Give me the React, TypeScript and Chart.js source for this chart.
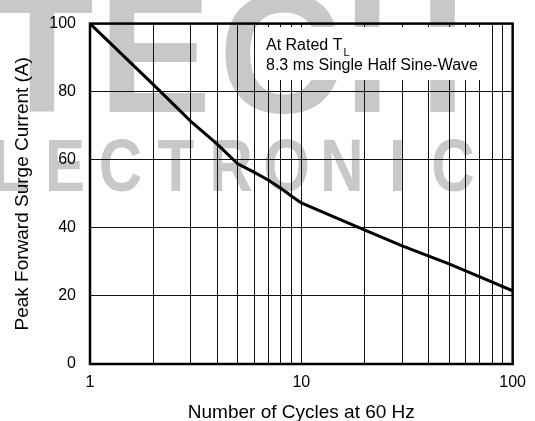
import React, { useEffect, useRef } from 'react';
import { Chart, registerables } from 'chart.js';

Chart.register(...registerables);

const FONT = '"Liberation Sans", Arial, Helvetica, sans-serif';

// Data
const cycles = [1, 2, 3, 4, 5, 6, 7, 8, 9, 10, 15, 20, 30, 50, 70, 100];
const surgeCurrent = [100, 82.0, 71.3, 64.6, 58.8, 56.3, 54.0, 51.6, 49.3, 47.3, 42.6, 39.3, 34.7, 29.4, 25.6, 21.5];

// Axis ticks / grid
const xGridValues = [1, 2, 3, 4, 5, 6, 7, 8, 9, 10, 20, 30, 40, 50, 60, 70, 80, 90, 100];
const xTickLabels = [1, 10, 100];
const yTickStep = 20;

// Texts
const xTitle = 'Number of Cycles at 60 Hz';
const yTitle = 'Peak Forward Surge Current (A)';
const noteLine1 = 'At Rated T';
const noteSub = 'L';
const noteLine2 = '8.3 ms Single Half Sine-Wave';
const watermarkTop = ['T', 'E', 'C', 'H'];
const watermarkBottom = ['E', 'L', 'E', 'C', 'T', 'R', 'O', 'N', 'I', 'C'];

const watermarkPlugin = {
  id: 'watermark',
  beforeDraw(chart: any) {
    const ctx = chart.ctx as CanvasRenderingContext2D;
    ctx.save();
    ctx.fillStyle = 'rgb(200,200,200)';
    ctx.textAlign = 'center';
    ctx.textBaseline = 'alphabetic';
    ctx.font = `bold 170px ${FONT}`;
    const topCenters = [42, 155, 280, 405];
    watermarkTop.forEach((ch, i) => ctx.fillText(ch, topCenters[i], 112));
    ctx.font = `bold 75px ${FONT}`;
    watermarkBottom.forEach((ch, i) => {
      const cx = -45.8 + i * 55.4;
      ctx.save();
      ctx.translate(cx, 191);
      ctx.scale(0.8, 1);
      ctx.fillText(ch, 0, 0);
      ctx.restore();
    });
    ctx.restore();
  },
};

const notePlugin = {
  id: 'note',
  beforeDatasetsDraw(chart: any) {
    const ctx = chart.ctx as CanvasRenderingContext2D;
    ctx.save();
    ctx.fillStyle = '#ffffff';
    ctx.fillRect(258, 27, 231, 53);
    ctx.fillStyle = '#000';
    ctx.textAlign = 'left';
    ctx.textBaseline = 'alphabetic';
    ctx.font = `16px ${FONT}`;
    ctx.fillText(noteLine1, 266, 49.5);
    const w = ctx.measureText(noteLine1).width;
    ctx.font = `11px ${FONT}`;
    ctx.fillText(noteSub, 266 + w + 1, 56);
    ctx.font = `16px ${FONT}`;
    ctx.fillText(noteLine2, 266, 70);
    ctx.restore();
  },
  afterDatasetsDraw(chart: any) {
    const { ctx, chartArea } = chart;
    ctx.save();
    ctx.strokeStyle = '#000';
    ctx.lineWidth = 2.5;
    ctx.strokeRect(chartArea.left, chartArea.top, chartArea.right - chartArea.left, chartArea.bottom - chartArea.top);
    ctx.restore();
  },
};

export default function App() {
  const ref = useRef<HTMLCanvasElement>(null);
  useEffect(() => {
    document.body.style.margin = '0';
    const chart = new Chart(ref.current as HTMLCanvasElement, {
      type: 'line',
      data: {
        datasets: [
          {
            data: cycles.map((c, i) => ({ x: c, y: surgeCurrent[i] })),
            borderColor: '#000',
            borderWidth: 3,
            pointRadius: 0,
            tension: 0,
            fill: false,
          },
        ],
      },
      options: {
        responsive: false,
        animation: false,
        layout: { padding: { top: 17, right: 20, left: 0, bottom: 0 } },
        plugins: { legend: { display: false }, tooltip: { enabled: false } },
        scales: {
          x: {
            type: 'logarithmic',
            min: 1,
            max: 100,
            afterBuildTicks: (s: any) => {
              s.ticks = xGridValues.map((v) => ({ value: v }));
            },
            afterFit: (s: any) => {
              s.height = 57;
            },
            ticks: {
              autoSkip: false,
              maxRotation: 0,
              padding: 9,
              color: '#000',
              font: { family: FONT, size: 16 },
              callback: (v: any) => (xTickLabels.includes(Number(v)) ? String(v) : ''),
            },
            grid: { color: '#111', lineWidth: 1, drawTicks: false },
            border: { display: false },
            title: {
              display: true,
              text: xTitle,
              color: '#000',
              font: { family: FONT, size: 19, lineHeight: 1 },
              padding: { top: 0, bottom: -1.5 },
            },
          },
          y: {
            type: 'linear',
            min: 0,
            max: 100,
            afterFit: (s: any) => {
              s.width = 90;
            },
            ticks: {
              stepSize: yTickStep,
              padding: 14,
              color: '#000',
              font: { family: FONT, size: 16 },
            },
            grid: { color: '#111', lineWidth: 1, drawTicks: false },
            border: { display: false },
            title: {
              display: true,
              text: yTitle,
              color: '#000',
              font: { family: FONT, size: 19, lineHeight: 1 },
              padding: { top: 13.5, bottom: 0 },
            },
          },
        },
      } as any,
      plugins: [watermarkPlugin, notePlugin],
    });
    return () => chart.destroy();
  }, []);
  return (
    <div style={{ position: 'absolute', left: 0, top: 0, width: 535, height: 421 }}>
      <canvas ref={ref} width={535} height={421} style={{ display: 'block' }} />
    </div>
  );
}
